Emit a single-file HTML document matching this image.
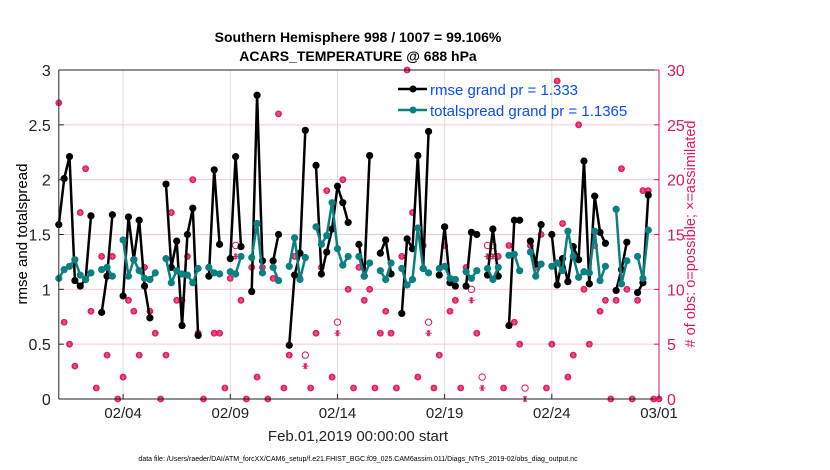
<!DOCTYPE html>
<html><head><meta charset="utf-8"><style>
body{margin:0;background:#fff;}
svg{display:block;font-family:"Liberation Sans",Arial,sans-serif;}
</style></head><body>
<svg id="chart" width="830" height="470" viewBox="0 0 830 470" xmlns="http://www.w3.org/2000/svg">
<rect x="0" y="0" width="830" height="470" fill="#fff"/>
<text x="358" y="42" text-anchor="middle" font-size="14" font-weight="bold">Southern Hemisphere 998 / 1007 = 99.106%</text>
<text x="358" y="61" text-anchor="middle" font-size="14" font-weight="bold">ACARS_TEMPERATURE @ 688 hPa</text>
<g id="grid"></g>
<g id="obs"></g>
<g id="lines"></g>
<g id="axes"></g>
<text transform="translate(27,234) rotate(-90)" text-anchor="middle" font-size="15">rmse and totalspread</text>
<text transform="translate(695,234) rotate(-90)" text-anchor="middle" font-size="14.5" fill="#e0165e"># of obs: o=possible; ×=assimilated</text>
<text x="358" y="441" text-anchor="middle" font-size="15" fill="#222">Feb.01,2019 00:00:00 start</text>
<text x="358" y="461" text-anchor="middle" font-size="7" fill="#000">data file: /Users/raeder/DAI/ATM_forcXX/CAM6_setup/f.e21.FHIST_BGC.f09_025.CAM6assim.011/Diags_NTrS_2019-02/obs_diag_output.nc</text>
<g>
<line x1="398" y1="89" x2="427" y2="89" stroke="#000" stroke-width="2.5"/>
<circle cx="413" cy="89" r="3.5" fill="#000"/>
<text x="430" y="95" font-size="15" fill="#0a4cf5">rmse grand pr = 1.333</text>
<line x1="398" y1="110" x2="427" y2="110" stroke="#0b8080" stroke-width="2.5"/>
<circle cx="413" cy="110" r="3.5" fill="#0b8080"/>
<text x="430" y="116" font-size="15" fill="#0a4cf5">totalspread grand pr = 1.1365</text>
</g>
</svg>
<script>
const N = 113;
const xTickLabels = ["02/04","02/09","02/14","02/19","02/24","03/01"];
const xTickDays = [3,8,13,18,23,28];
const yTicksLeft = [0,0.5,1,1.5,2,2.5,3];
const yTicksRight = [0,5,10,15,20,25,30];
const rmseIdx = [0,1,2,3,4,5,6,8,9,10,12,13,14,15,16,17,20,21,22,23,24,25,26,28,29,30,32,33,34,36,37,38,40,41,43,44,45,46,48,49,50,51,52,53,54,56,57,58,60,61,62,64,65,66,67,68,69,71,72,73,74,76,77,78,80,81,82,84,85,86,88,89,90,92,93,94,95,96,97,98,99,100,101,102,104,105,106,108,109,110];
const rmseVal = [1.59,2.01,2.21,1.08,1.03,1.09,1.67,0.79,1.12,1.68,0.94,1.66,1.27,1.63,1.03,0.74,1.96,1.20,1.44,0.67,1.50,1.74,0.58,1.12,2.09,1.41,1.28,2.21,1.39,0.98,2.77,1.26,1.26,1.50,0.49,1.13,1.33,2.45,2.13,1.14,1.34,1.55,1.94,1.79,1.61,1.41,1.12,2.22,1.33,1.45,1.14,0.78,1.46,1.37,2.22,1.19,2.44,1.13,1.57,1.06,1.03,1.03,1.52,1.50,1.13,1.55,1.12,0.67,1.63,1.63,1.44,1.23,1.59,1.50,1.04,1.28,1.07,1.39,1.27,2.17,1.05,1.85,1.52,1.42,0.99,1.18,1.43,0.97,1.06,1.86];
const spreadIdx = [0,1,2,3,4,5,6,8,9,10,12,13,14,15,16,17,18,20,21,22,23,24,25,26,28,29,30,32,33,34,36,37,38,40,41,43,44,45,46,48,49,50,51,52,53,54,56,57,58,60,61,62,64,65,66,67,68,69,71,72,73,74,76,77,78,80,81,82,84,85,86,88,89,90,92,93,94,95,96,97,98,99,100,101,102,104,105,106,108,109,110];
const spreadVal = [1.10,1.18,1.21,1.27,1.13,1.09,1.15,1.18,1.20,1.12,1.45,1.12,1.27,1.17,1.10,1.09,1.15,1.28,1.06,1.17,1.14,1.13,1.06,1.19,1.20,1.15,1.14,1.16,1.14,1.30,1.29,1.60,1.15,1.20,1.08,1.21,1.47,1.09,1.29,1.57,1.41,1.49,1.79,1.37,1.22,1.30,1.30,1.12,1.24,1.17,1.09,1.24,1.19,1.04,1.09,1.56,1.19,1.15,1.19,1.21,1.10,1.09,1.16,1.10,1.17,1.19,1.09,1.20,1.31,1.32,1.17,1.34,1.12,1.23,1.21,1.24,1.17,1.53,1.30,1.11,1.16,1.15,1.53,1.08,1.21,1.73,1.05,1.26,1.30,1.10,1.54];
const obsPossible = [27,7,5,3,17,21,8,1,13,4,13,0,2,9,8,4,12,8,6,0,4,17,9,9,13,20,6,0,12,6,6,1,11,14,9,0,12,2,12,0,11,26,1,4,13,11,4,1,6,12,19,2,7,20,10,1,12,9,10,1,6,8,6,1,13,30,17,2,14,7,1,4,14,8,9,1,12,10,6,2,14,14,13,1,14,7,5,1,14,12,15,1,5,29,16,2,4,25,10,5,14,8,9,0,9,21,10,0,9,19,19,0,0];
const obsAssim = [27,7,5,3,17,21,8,1,13,4,13,0,2,9,8,4,12,8,6,0,4,17,9,9,13,20,6,0,12,6,6,1,11,13,9,0,12,2,12,0,11,26,1,4,13,11,3,1,6,12,19,2,6,20,10,1,12,9,10,1,6,8,6,1,13,30,17,2,14,6,1,4,14,8,9,1,12,9,6,1,13,13,13,1,14,7,5,0,14,12,15,1,5,29,16,2,4,25,10,5,14,8,9,0,9,21,10,0,9,19,19,0,0];

const X0=58.8, X1=659, Y0=399, Y1=70;
const xScale = i => X0 + (X1-X0)*i/(N-1);
const xDay = d => X0 + (X1-X0)*d/28;
const yL = v => Y0 - (Y0-Y1)*v/3;
const yR = v => Y0 - (Y0-Y1)*v/30;
const NS="http://www.w3.org/2000/svg";
function mk(tag, attrs, parent){const e=document.createElementNS(NS,tag);for(const k in attrs)e.setAttribute(k,attrs[k]);parent.appendChild(e);return e;}
const grid=document.getElementById('grid'), axes=document.getElementById('axes'), obs=document.getElementById('obs'), lines=document.getElementById('lines');

yTicksLeft.forEach(v=>{ if(v>0&&v<3){ const l=mk('line',{x1:X0,x2:X1,y1:yL(v),y2:yL(v),stroke:'#f4c6d6','stroke-width':1},grid);

}});
xTickDays.forEach(d=>{ if(d<28){ const l=mk('line',{x1:xDay(d),x2:xDay(d),y1:Y1,y2:Y0,stroke:'#dcdcdc','stroke-width':1},grid);

}});

const ab=mk('line',{x1:X0,x2:X1,y1:Y0,y2:Y0,stroke:'#222','stroke-width':1},axes);


const at=mk('line',{x1:X0,x2:X1,y1:Y1,y2:Y1,stroke:'#222','stroke-width':1},axes);


const al=mk('line',{x1:X0,x2:X0,y1:Y1,y2:Y0,stroke:'#222','stroke-width':1},axes);


const ar=mk('line',{x1:X1,x2:X1,y1:Y1,y2:Y0,stroke:'#e0165e','stroke-width':1},axes);



yTicksLeft.forEach(v=>{
 mk('line',{x1:X0,x2:X0+5,y1:yL(v),y2:yL(v),stroke:'#222'},axes);
 const t=mk('text',{x:X0-8,y:yL(v)+6,'text-anchor':'end','font-size':16,fill:'#222'},axes);
 t.textContent=String(v);
 
 
});
yTicksRight.forEach(v=>{
 mk('line',{x1:X1-5,x2:X1,y1:yR(v),y2:yR(v),stroke:'#e0165e'},axes);
 const t=mk('text',{x:X1+8,y:yR(v)+6,'text-anchor':'start','font-size':16,fill:'#e0165e'},axes);
 t.textContent=String(v);
 
 
});
xTickDays.forEach((d,k)=>{
 mk('line',{x1:xDay(d),x2:xDay(d),y1:Y0,y2:Y0-5,stroke:'#222'},axes);
 const t=mk('text',{x:xDay(d),y:Y0+19,'text-anchor':'middle','font-size':15,fill:'#222'},axes);
 t.textContent=xTickLabels[k];
 
 
});

const RED='#e0165e';
function asterisk(cx,cy,r,col,w,parent){
 for(let a=0;a<3;a++){const ang=a*Math.PI/3;
  mk('line',{x1:cx-r*Math.cos(ang),y1:cy-r*Math.sin(ang),x2:cx+r*Math.cos(ang),y2:cy+r*Math.sin(ang),stroke:col,'stroke-width':w},parent);}
 mk('line',{x1:cx,y1:cy-r,x2:cx,y2:cy+r,stroke:col,'stroke-width':w},parent);
}
obsPossible.forEach((p,i)=>{
 const a=obsAssim[i]; const cx=xScale(i);
 if(p===a){
  const g=mk('g',{},obs);
  
  
  mk('circle',{cx:cx,cy:yR(p),r:3.4,fill:RED},g);
  asterisk(cx,yR(p),2.4,'#f06090',0.6,g);
 } else {
  const c=mk('circle',{cx:cx,cy:yR(p),r:3.2,fill:'none',stroke:RED,'stroke-width':1},obs);
  
  
  const g=mk('g',{},obs);
  
  
  asterisk(cx,yR(a),3.2,RED,1,g);
 }
});

function drawSeries(idx,vals,col,name){
 let d='';
 idx.forEach((i,k)=>{ const cont = k>0 && idx[k-1]===i-1; d += (cont?'L':'M')+xScale(i).toFixed(1)+','+yL(vals[k]).toFixed(1); });
 const p=mk('path',{d:d,fill:'none',stroke:col,'stroke-width':2.5,'stroke-linejoin':'round'},lines);
 
 
 idx.forEach((i,k)=>{
  const c=mk('circle',{cx:xScale(i),cy:yL(vals[k]),r:3.6,fill:col},lines);
  
  
 });
}
drawSeries(rmseIdx,rmseVal,'#000','rmse');
drawSeries(spreadIdx,spreadVal,'#0b8080','totalspread');
</script>
</body></html>
